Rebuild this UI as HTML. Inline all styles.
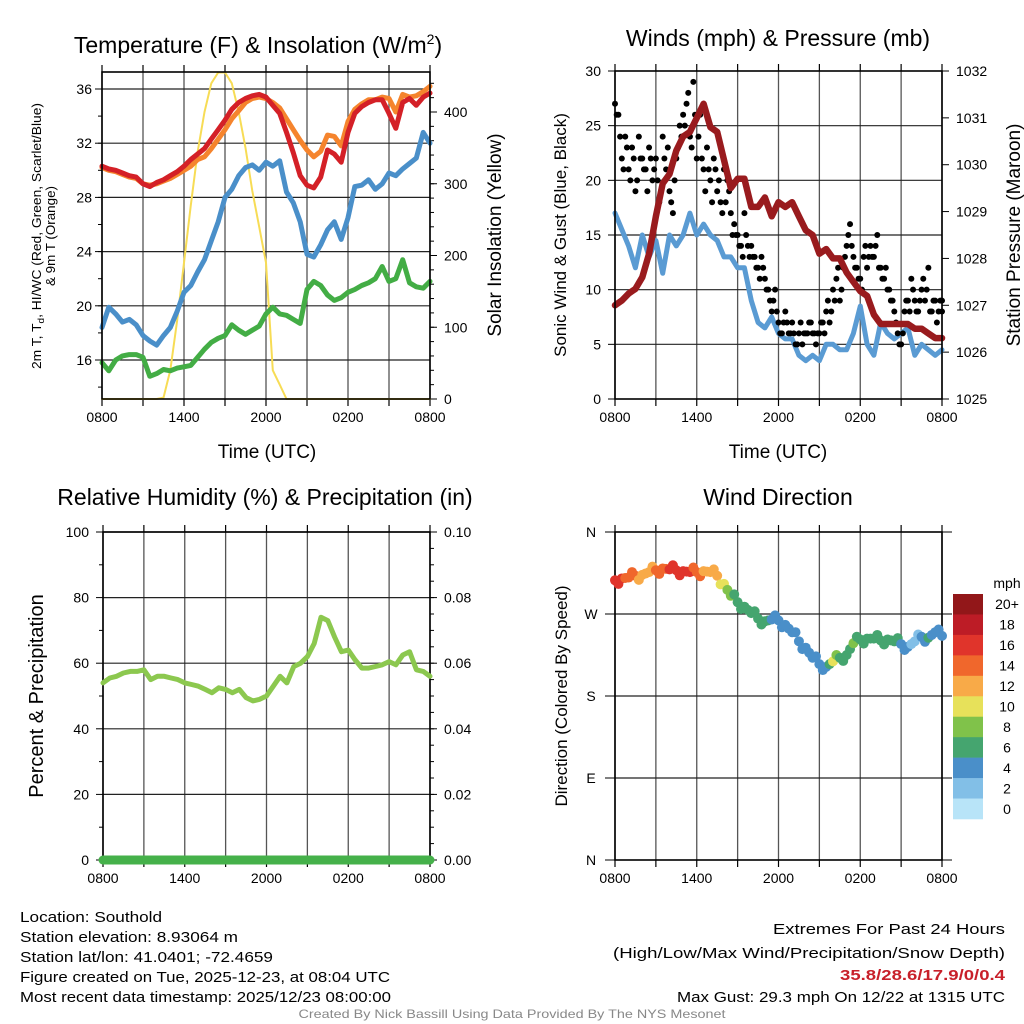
<!DOCTYPE html>
<html><head><meta charset="utf-8"><style>
html,body{margin:0;padding:0;background:#fff;}
svg{display:block;font-family:"Liberation Sans",sans-serif;}
</style></head><body>
<svg id="c" width="1024" height="1024" viewBox="0 0 1024 1024"></svg>
<script>
// ---------- DATA (30-minute steps from 0800 UTC, 0..24 h) ----------
const hours = [0,0.5,1,1.5,2,2.5,3,3.5,4,4.5,5,5.5,6,6.5,7,7.5,8,8.5,9,9.5,10,10.5,11,11.5,12,12.5,13,13.5,14,14.5,15,15.5,16,16.5,17,17.5,18,18.5,19,19.5,20,20.5,21,21.5,22,22.5,23,23.5,24];
const tempRed = [30.3,30.1,30.0,29.8,29.6,29.5,29.0,28.8,29.1,29.3,29.6,29.9,30.3,30.8,31.2,31.6,32.3,33.0,33.7,34.5,35.0,35.3,35.5,35.6,35.4,34.8,34.2,32.8,31.3,29.6,28.9,28.7,29.5,31.5,31.2,30.6,32.8,34.2,34.7,35.0,35.2,35.2,34.2,33.1,35.0,35.3,34.8,35.4,35.7];
const tempOrange = [30.2,30.0,29.9,29.7,29.5,29.4,29.0,28.9,29.0,29.2,29.4,29.7,30.0,30.3,30.8,31.0,31.6,32.3,33.0,33.8,34.4,35.0,35.3,35.4,35.3,35.0,34.6,33.8,33.0,32.2,31.5,31.0,31.4,32.6,32.5,31.8,33.6,34.5,34.9,35.2,35.2,35.4,35.3,34.3,35.6,35.4,35.5,35.8,36.2];
const dewBlue = [18.4,19.9,19.4,18.8,19.0,18.6,17.8,17.4,17.1,17.8,18.4,19.6,21.0,21.5,22.5,23.4,24.8,26.2,28.0,28.6,29.6,30.2,30.4,30.0,30.6,30.3,30.7,28.4,27.6,26.2,23.8,23.6,24.5,25.6,26.2,24.9,26.5,28.8,28.9,29.3,28.6,29.0,29.8,29.6,30.1,30.5,30.9,32.8,32.0];
const chillGreen = [15.8,15.2,16.0,16.3,16.4,16.4,16.2,14.8,15.0,15.3,15.2,15.4,15.5,15.6,16.2,16.8,17.3,17.6,17.8,18.6,18.2,17.9,18.2,18.5,19.4,19.9,19.4,19.3,19.0,18.7,21.2,21.8,21.5,20.8,20.4,20.6,21.0,21.2,21.5,21.7,22.0,22.9,21.8,22.0,23.4,21.7,21.4,21.3,21.8];
const insolation = [0,0,0,0,0,0,0,0,0,2,40,110,190,270,345,400,440,455,455,440,400,350,290,240,190,40,20,0,0,0,0,0,0,0,0,0,0,0,0,0,0,0,0,0,0,0,0,0,0];
const windSpeed = [17,15.5,14,12,15,13,14.5,11.5,15,14,15,17,15,16,15,14.5,13,13,12,12,9,7,6.5,7.5,6,5.5,5.5,4,3.5,4,3.5,5,5,4.5,4.5,6,8.5,5,4,7,6,5.5,6,6.5,4,5,4.5,4,4.5];
const pressure = [1027.0,1027.1,1027.25,1027.35,1027.6,1028.1,1028.9,1029.6,1029.8,1030.3,1030.6,1030.7,1031.0,1031.3,1030.8,1030.7,1030.1,1029.5,1029.7,1029.7,1029.1,1029.1,1029.3,1028.9,1029.2,1029.1,1029.2,1028.9,1028.6,1028.5,1028.1,1028.2,1028.0,1028.0,1027.7,1027.5,1027.3,1027.2,1026.8,1026.6,1026.6,1026.6,1026.6,1026.6,1026.5,1026.5,1026.4,1026.3,1026.3];
// gusts at 15-minute steps
const gustValues = [27,26,22,24,21,23,19,24,22,21,23,20,22,18,24,21,19,17,22,25,26,27,24,29,22,26,21,23,20,22,19,18,21,20,17,16,15,14,17,14,14,13,12,13,11,10,8,10,7,6,8,6,7,5,6,5,6,7,6,5,6,7,8,7,10,11,9,12,14,16,13,12,11,13,12,14,13,15,12,11,10,9,8,6,5,8,9,11,9,8,10,9,12,8,9,8,9];
// second set of gust samples, offset 7.5 minutes
const gustValues2 = [26,24,21,23,20,22,20,22,21,19,22,21,20,19,22,23,18,20,23,24,25,28,23,26,24,22,19,21,18,21,20,17,18,19,15,15,14,13,15,13,13,12,11,12,10,9,9,8,6,7,7,6,6,5,7,6,6,7,6,6,7,6,9,8,9,12,10,13,15,14,12,11,10,14,13,13,14,12,11,12,10,9,7,5,6,9,8,10,8,9,11,10,8,9,7,9,8];
const relHum = [54,55.5,56,57,57.5,57.5,58,55,56,56,55.5,55,54,53.5,53,52,51,52.5,52,51,52,49.5,48.5,49,50,53,56,54,59,60,62,66,74,73,68,63.5,64,61,58.5,58.5,59,59.5,60.5,59.5,62.5,63.5,58,57.5,56];
const precip = [0,0,0,0,0,0,0,0,0,0,0,0,0,0,0,0,0,0,0,0,0,0,0,0,0,0,0,0,0,0,0,0,0,0,0,0,0,0,0,0,0,0,0,0,0,0,0,0,0];
const windDir = [307,309,310,312,313,316,318,320,319,318,317,316,316,317,316,312,303,290,283,278,271,265,262,264,263,258,250,240,233,222,215,212,218,222,225,238,242,243,243,241,242,240,237,234,240,245,244,250,246];
const dirSpeed = [17,16,15,14,13,12,14,15,16,16,17,16,15,13,12,12,10,8,7,7,6,6,7,5,4,4,4,4,4,4,4,4,10,6,7,8,7,7,7,6,6,7,5,4,2,4,7,4,4];
const timeTickLabels = ["0800","1400","2000","0200","0800"];
const tempTicks = [16,20,24,28,32,36];
const insTicks = [0,100,200,300,400];
const windTicks = [0,5,10,15,20,25,30];
const presTicks = [1025,1026,1027,1028,1029,1030,1031,1032];
const rhTicks = [0,20,40,60,80,100];
const precipTicks = ["0.00","0.02","0.04","0.06","0.08","0.10"];
const dirTicks = [0,90,180,270,360];
const dirLabels = ["N","E","S","W","N"];
const speedBins = ["0","2","4","6","8","10","12","14","16","18","20+"];
const binColors = ["#b8e4f8","#82bfe7","#4a8fc9","#45a56f","#80c24a","#e7e15a","#f8aa48","#f0672c","#e0342b","#bd1c26","#921719"];

// ---------- helpers ----------
const NS="http://www.w3.org/2000/svg", svg=document.getElementById('c');
function mk(tag,attrs,parent){const e=document.createElementNS(NS,tag);for(const k in attrs)e.setAttribute(k,attrs[k]);(parent||svg).appendChild(e);return e;}
function txt(s,x,y,size,anchor,parent,extra){const e=mk('text',Object.assign({x:x,y:y,'font-size':size,'text-anchor':anchor||'middle',fill:'#000'},extra||{}),parent);e.textContent=s;return e;}
function scale(d0,d1,r0,r1){return v=>r0+(v-d0)*(r1-r0)/(d1-d0);}

function frame(p,name){
  const g=mk('g',{});
  
  
  for(let h=0;h<=24;h+=3){const x=p.x(h);mk('line',{x1:x,y1:p.y0,x2:x,y2:p.y1,stroke:'#555','stroke-width':1.3},g);
    mk('line',{x1:x,y1:p.y1,x2:x,y2:p.y1+7,stroke:'#000','stroke-width':1.2},g);mk('line',{x1:x,y1:p.y0,x2:x,y2:p.y0-7,stroke:'#000','stroke-width':1.2},g);}
  timeTickLabels.forEach((l,i)=>{const t=txt(l,p.x(i*6),p.y1+23,14,'middle',g);});
  return g;
}
function poly(g,xs,ys,color,w,name){
  let d='';xs.forEach((x,i)=>{d+=(i?'L':'M')+x.toFixed(1)+','+ys[i].toFixed(1);});
  const e=mk('path',{d:d,fill:'none',stroke:color,'stroke-width':w,'stroke-linejoin':'round','stroke-linecap':'round'},g);
  
  
  return e;
}
function border(g,p){mk('rect',{x:p.x0,y:p.y0,width:p.x1-p.x0,height:p.y1-p.y0,fill:'none',stroke:'#000','stroke-width':1.6},g);}

// ---------- Panel 1: temperature ----------
const p1={x0:102,x1:430,y0:72,y1:399};p1.x=scale(0,24,p1.x0,p1.x1);
const yT=scale(36,16,89,360), yI=scale(0,400,399,112);
const g1=frame(p1,'temperature-panel');
tempTicks.forEach(v=>{const y=yT(v);mk('line',{x1:p1.x0,y1:y,x2:p1.x1,y2:y,stroke:'#222','stroke-width':1.2},g1);mk('line',{x1:p1.x0-7,y1:y,x2:p1.x0,y2:y,stroke:'#000'},g1);
  const t=txt(String(v),p1.x0-10,y+5,14,'end',g1);});
for(let v=14;v<=36;v+=2){mk('line',{x1:p1.x0-4,y1:yT(v),x2:p1.x0,y2:yT(v),stroke:'#000'},g1);}
insTicks.forEach(v=>{const y=yI(v);mk('line',{x1:p1.x1,y1:y,x2:p1.x1+7,y2:y,stroke:'#000'},g1);
  const t=txt(String(v),p1.x1+14,y+5,14,'start',g1);});
for(let v=0;v<=440;v+=20){mk('line',{x1:p1.x1,y1:yI(v),x2:p1.x1+4,y2:yI(v),stroke:'#000'},g1);}
const hx1=hours.map(p1.x);
poly(g1,hx1,insolation.map(yI),'#f7dc55',2,'insolation-line');
poly(g1,hx1,chillGreen.map(yT),'#43ad45',5,'windchill-line');
poly(g1,hx1,dewBlue.map(yT),'#4a8fc9',5,'dewpoint-line');
poly(g1,hx1,tempOrange.map(yT),'#f5842d',5,'temp-9m-line');
poly(g1,hx1,tempRed.map(yT),'#d42027',5,'temp-2m-line');
border(g1,p1);
{const t=txt('Temperature (F) & Insolation (W/m',258,53,23,'middle');
 const s=mk('tspan',{dy:-9,'font-size':14});s.textContent='2';t.appendChild(s);const s2=mk('tspan',{dy:9});s2.textContent=')';t.appendChild(s2);}
{const t=txt('Time (UTC)',267,458,19);}
{const t=txt('2m T, T',0,0,12.5,'middle',null,{transform:'translate(41,236) rotate(-90)',textLength:266,lengthAdjust:'spacingAndGlyphs'});
 const s=mk('tspan',{'font-size':9,dy:3});s.textContent='d';t.appendChild(s);
 const s2=mk('tspan',{dy:-3});s2.textContent=', HI/WC (Red, Green, Scarlet/Blue)';t.appendChild(s2);
 
 const t2=txt('& 9m T (Orange)',0,0,12.5,'middle',null,{transform:'translate(55,236) rotate(-90)',textLength:100,lengthAdjust:'spacingAndGlyphs'});}
{const t=txt('Solar Insolation (Yellow)',0,0,19,'middle',null,{transform:'translate(501,235) rotate(-90)'});}

// ---------- Panel 2: winds & pressure ----------
const p2={x0:615,x1:942,y0:71,y1:399};p2.x=scale(0,24,p2.x0,p2.x1);
const yW=scale(0,30,399,71), yP=scale(1025,1032,399,71);
const g2=frame(p2,'winds-panel');
windTicks.forEach(v=>{const y=yW(v);if(v>0&&v<30)mk('line',{x1:p2.x0,y1:y,x2:p2.x1,y2:y,stroke:'#222','stroke-width':1.2},g2);mk('line',{x1:p2.x0-7,y1:y,x2:p2.x0,y2:y,stroke:'#000'},g2);
  const t=txt(String(v),p2.x0-14,y+5,14,'end',g2);});
presTicks.forEach(v=>{const y=yP(v);mk('line',{x1:p2.x1,y1:y,x2:p2.x1+7,y2:y,stroke:'#000'},g2);
  const t=txt(String(v),p2.x1+14,y+5,14,'start',g2);});
const hx2=hours.map(p2.x);
poly(g2,hx2,windSpeed.map(yW),'#5a9bd3',5,'sonic-wind-line');
gustValues.forEach((v,i)=>{const c=mk('circle',{cx:p2.x(i*0.25),cy:yW(v),r:3,fill:'#000'},g2);
  
  });
gustValues2.forEach((v,i)=>{const c=mk('circle',{cx:p2.x(Math.min(24,i*0.25+0.125)),cy:yW(v),r:3,fill:'#000'},g2);
  
  });
poly(g2,hx2,pressure.map(yP),'#991b1e',6.5,'pressure-line');
border(g2,p2);
{const t=txt('Winds (mph) & Pressure (mb)',778,46,23);}
{const t=txt('Time (UTC)',778,458,19);}
{const t=txt('Sonic Wind & Gust (Blue, Black)',0,0,17,'middle',null,{transform:'translate(566,235) rotate(-90)'});}
{const t=txt('Station Pressure (Maroon)',0,0,19,'middle',null,{transform:'translate(1020,235) rotate(-90)'});}

// ---------- Panel 3: RH & precip ----------
const p3={x0:103,x1:430,y0:532,y1:860};p3.x=scale(0,24,p3.x0,p3.x1);
const yR=scale(0,100,860,532), yPr=scale(0,0.1,860,532);
const g3=frame(p3,'humidity-panel');
rhTicks.forEach((v,i)=>{const y=yR(v);if(v>0)mk('line',{x1:p3.x0,y1:y,x2:p3.x1,y2:y,stroke:'#222','stroke-width':1.2},g3);mk('line',{x1:p3.x0-7,y1:y,x2:p3.x0,y2:y,stroke:'#000'},g3);mk('line',{x1:p3.x1,y1:y,x2:p3.x1+7,y2:y,stroke:'#000'},g3);
  const t=txt(String(v),p3.x0-14,y+5,14,'end',g3);
  const t2=txt(precipTicks[i],p3.x1+14,y+5,14,'start',g3);});
for(let v=10;v<100;v+=20){mk('line',{x1:p3.x0-4,y1:yR(v),x2:p3.x0,y2:yR(v),stroke:'#000'},g3);}
for(let v=5;v<100;v+=5){mk('line',{x1:p3.x1,y1:yR(v),x2:p3.x1+4,y2:yR(v),stroke:'#000'},g3);}
const hx3=hours.map(p3.x);
border(g3,p3);
poly(g3,hx3,relHum.map(yR),'#8cc84f',5,'rh-line');
poly(g3,hx3,precip.map(yPr),'#45b14a',9,'precip-line');
{const t=txt('Relative Humidity (%) & Precipitation (in)',265,505,23);}
{const t=txt('Percent & Precipitation',0,0,20,'middle',null,{transform:'translate(43,696) rotate(-90)'});}

// ---------- Panel 4: wind direction ----------
const p4={x0:615,x1:942,y0:532,y1:860};p4.x=scale(0,24,p4.x0,p4.x1);
const yD=scale(0,360,860,532);
const g4=frame(p4,'wind-direction-panel');
dirTicks.forEach((v,i)=>{const y=yD(v);if(v>0&&v<360)mk('line',{x1:p4.x0,y1:y,x2:p4.x1,y2:y,stroke:'#222','stroke-width':1.2},g4);
  mk('line',{x1:p4.x0-10,y1:y,x2:p4.x0,y2:y,stroke:'#000'},g4);mk('line',{x1:p4.x1,y1:y,x2:p4.x1+10,y2:y,stroke:'#000'},g4);
  const t=txt(dirLabels[i],p4.x0-24,y+5,14,'middle',g4);});
border(g4,p4);
function binColor(s){let i=Math.floor(s/2);if(i>10)i=10;if(i<0)i=0;return binColors[i];}
windDir.forEach((d,i)=>{
  const c=mk('circle',{cx:p4.x(hours[i]),cy:yD(d),r:5,fill:binColor(dirSpeed[i])},g4);
  
  
  if(i<windDir.length-1){const c2=mk('circle',{cx:p4.x(hours[i]+0.25),cy:yD((d+windDir[i+1])/2+((i%3)-1)*5),r:5,fill:binColor((dirSpeed[i]+dirSpeed[i+1])/2)},g4);
    
    }
});
{const t=txt('Wind Direction',778,505,23);}
{const t=txt('Direction (Colored By Speed)',0,0,17,'middle',null,{transform:'translate(567,696) rotate(-90)'});}
const cb=mk('g',{});


{const t=txt('mph',1007,588,14,'middle',cb);}
const bh=(819-594)/11;
speedBins.forEach((l,i)=>{const k=10-i;const y=594+i*bh;mk('rect',{x:953,y:y,width:30,height:bh+0.3,fill:binColors[k]},cb);
  const t=txt(speedBins[k],1007,y+bh/2+5,14,'middle',cb);});

// ---------- footer ----------
const leftLines=[["Location: Southold",162],["Station elevation: 8.93064 m",238],["Station lat/lon: 41.0401; -72.4659",273],["Figure created on Tue, 2025-12-23, at 08:04 UTC",390],["Most recent data timestamp: 2025/12/23 08:00:00",391]];
const leftY=[922,942,962,982,1002];
leftLines.forEach((l,i)=>{const t=txt(l[0],20,leftY[i],15,'start',null,{textLength:l[1]-20,lengthAdjust:'spacingAndGlyphs'});});
const rightLines=[["Extremes For Past 24 Hours","#000",false,232],["(High/Low/Max Wind/Precipitation/Snow Depth)","#000",false,392],["35.8/28.6/17.9/0/0.4","#c8202a",true,165],["Max Gust: 29.3 mph On 12/22 at 1315 UTC","#000",false,328]];
const rightY=[934,958,980,1002];
rightLines.forEach((l,i)=>{const t=txt(l[0],1005,rightY[i],15,'end',null,{fill:l[1],'font-weight':l[2]?'bold':'normal',textLength:l[3],lengthAdjust:'spacingAndGlyphs'});});
{const t=txt('Created By Nick Bassill Using Data Provided By The NYS Mesonet',512,1018,12,'middle',null,{fill:'#888',textLength:427,lengthAdjust:'spacingAndGlyphs'});}
</script>
</body></html>
